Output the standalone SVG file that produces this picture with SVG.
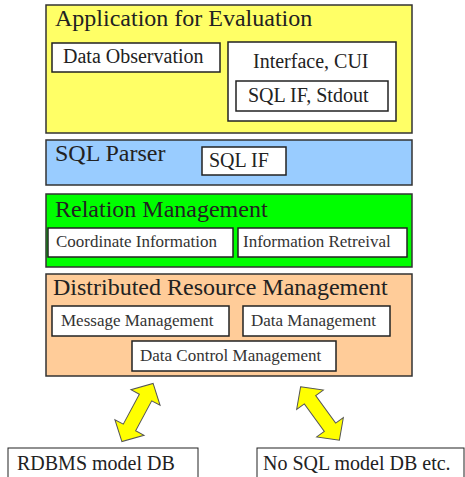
<svg xmlns="http://www.w3.org/2000/svg" width="465" height="477" viewBox="0 0 465 477">
<style>
.layer{stroke:#333;stroke-width:1.5}
.box{fill:#fff;stroke:#222;stroke-width:1.5}
.db{fill:#fff;stroke:#222;stroke-width:1}
.t{font-family:"Liberation Serif","Times New Roman",serif;fill:#222}
.big{font-size:24px}
.mid{font-size:20px}
.sm{font-size:17px;fill:#333}
.arr{fill:#ffff00;stroke:#555;stroke-width:1}
</style>
<defs>
<polygon id="dbl" points="-33,0 -17,-16.5 -17,-7 17,-7 17,-16.5 33,0 17,16.5 17,7 -17,7 -17,16.5"/>
</defs>
<rect width="465" height="477" fill="#fff"/>
<g id="app">
<rect class="layer" x="46" y="5" width="366" height="128" fill="#ffff66"/>
<text class="t big" x="55" y="26">Application for Evaluation</text>
</g>
<g id="data-observation">
<rect class="box" x="52" y="43" width="168" height="29"/>
<text class="t mid" x="63" y="63">Data Observation</text>
</g>
<g id="interface-cui">
<rect class="box" x="228" y="42" width="168" height="79"/>
<text class="t mid" x="253" y="68">Interface, CUI</text>
</g>
<g id="sql-if-stdout">
<rect class="box" x="236" y="81" width="152" height="30"/>
<text class="t mid" x="248" y="102">SQL IF, Stdout</text>
</g>
<g id="sql-parser">
<rect class="layer" x="46" y="140" width="366" height="45" fill="#99ccff"/>
<text class="t big" x="55" y="161">SQL Parser</text>
</g>
<g id="sql-if">
<rect class="box" x="202" y="147" width="84" height="28"/>
<text class="t mid" x="209" y="167">SQL IF</text>
</g>
<g id="relation">
<rect class="layer" x="46" y="194" width="366" height="73" fill="#00ff00"/>
<text class="t big" x="55" y="217">Relation Management</text>
</g>
<g id="coordinate">
<rect class="box" x="48" y="228" width="185" height="29"/>
<text class="t sm" x="56" y="247">Coordinate Information</text>
</g>
<g id="retreival">
<rect class="box" x="238" y="228" width="169" height="29"/>
<text class="t sm" x="243" y="247">Information Retreival</text>
</g>
<g id="distributed">
<rect class="layer" x="46" y="274" width="366" height="102" fill="#ffcc99"/>
<text class="t big" x="53" y="295">Distributed Resource Management</text>
</g>
<g id="message">
<rect class="box" x="52" y="306" width="177" height="30"/>
<text class="t sm" x="61" y="326">Message Management</text>
</g>
<g id="data-management">
<rect class="box" x="243" y="306" width="147" height="30"/>
<text class="t sm" x="251" y="326">Data Management</text>
</g>
<g id="data-control">
<rect class="box" x="132" y="341" width="204" height="30"/>
<text class="t sm" x="140" y="361">Data Control Management</text>
</g>
<g id="rdbms">
<rect class="db" x="8" y="448" width="190" height="35"/>
<text class="t mid" x="17" y="470">RDBMS model DB</text>
</g>
<g id="nosql">
<rect class="db" x="257" y="448" width="207" height="35"/>
<text class="t mid" x="263" y="470">No SQL model DB etc.</text>
</g>
<g id="connectors">
<use href="#dbl" class="arr" transform="translate(137.5,412.5) rotate(-61.8)"/>
<use href="#dbl" class="arr" transform="translate(320,413.5) rotate(54)"/>
</g>
</svg>
